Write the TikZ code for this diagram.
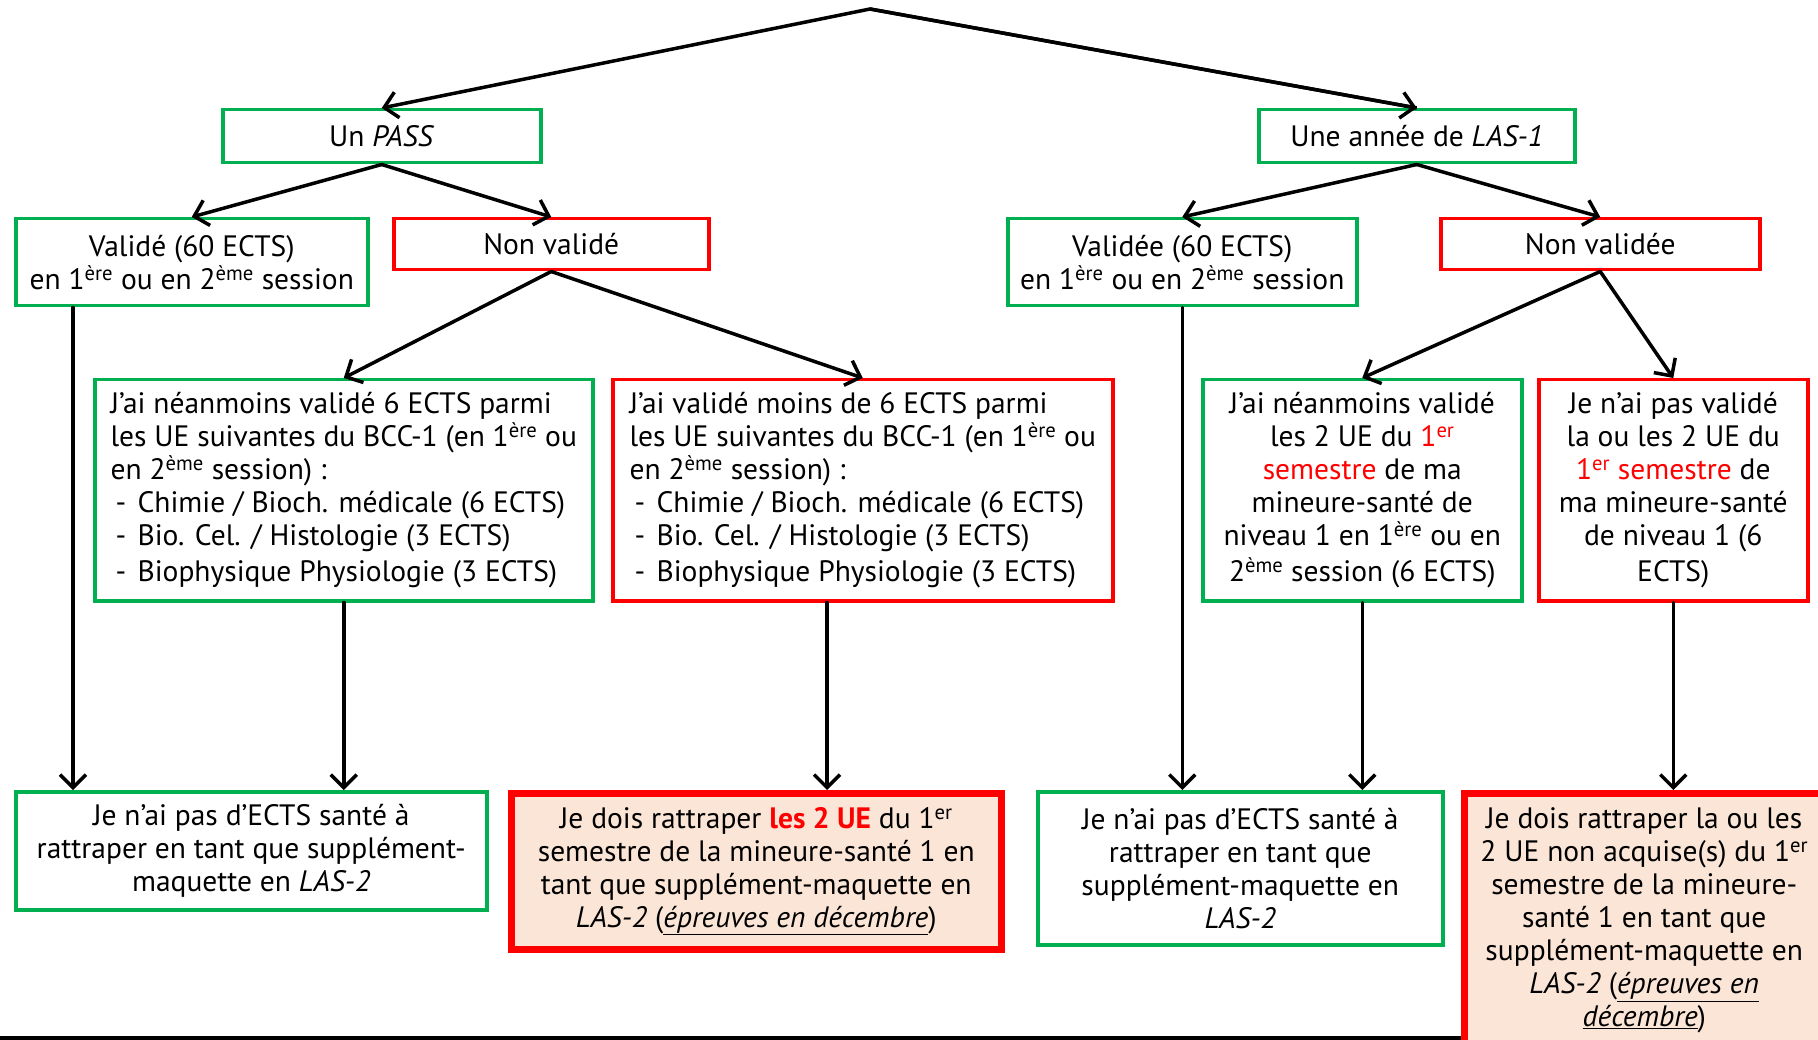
\documentclass[tikz,border=0pt]{standalone}
\usepackage{fontspec}
\setmainfont{PT Sans}
\usetikzlibrary{arrows.meta}
\definecolor{gr}{RGB}{0,176,80}
\definecolor{rd}{RGB}{255,0,0}
\definecolor{peach}{RGB}{251,229,214}
\newcommand{\itm}[1]{\makebox[27pt][l]{\hspace{5pt}-}#1}
\newcommand{\sprs}[1]{\textsuperscript{#1}}
\begin{document}
\begin{tikzpicture}[x=1pt,y=-1pt,
  box/.style={draw, line width=3.5pt, inner sep=0pt, anchor=north west,
    font=\fontsize{29.5}{33}\selectfont, align=center},
  gbox/.style={box, draw=gr},
  rbox/.style={box, draw=rd},
  rtbox/.style={box, draw=rd, line width=6.5pt, fill=peach},
  arr/.style={-{Straight Barb[length=13pt,width=26pt]}, line width=3.5pt, line cap=round}]
\useasboundingbox (0,0) rectangle (1818,1040);
\clip (0,0) rectangle (1818,1040);

\coordinate (top) at (870,9);

\node[gbox, minimum width=318pt, minimum height=53pt] (pass) at (221,108) {Un \textit{PASS}};
\node[gbox, minimum width=316pt, minimum height=53pt] (las) at (1257,108) {Une année de \textit{LAS-1}};

\node[gbox, minimum width=352pt, minimum height=87pt] (valide) at (14,217)
  {Validé (60 ECTS)\\ en 1\sprs{ère} ou en 2\sprs{ème} session};
\node[rbox, minimum width=315pt, minimum height=51pt] (nonvalide) at (392,217) {Non validé};
\node[gbox, minimum width=349pt, minimum height=87pt] (validee) at (1006,217)
  {Validée (60 ECTS)\\ en 1\sprs{ère} ou en 2\sprs{ème} session};
\node[rbox, minimum width=319pt, minimum height=51pt] (nonvalidee) at (1439,217) {Non validée};

\node[gbox, align=left, minimum width=498pt, minimum height=221pt] (neanL) at (93,378)
  {J’ai néanmoins validé 6 ECTS parmi\\
   les UE suivantes du BCC-1 (en 1\sprs{ère} ou\\
   en 2\sprs{ème} session) :\\
   \itm{Chimie / Bioch. médicale (6 ECTS)}\\
   \itm{Bio. Cel. / Histologie (3 ECTS)}\\[3pt]
   \itm{Biophysique Physiologie (3 ECTS)}};
\node[rbox, align=left, minimum width=500pt, minimum height=221pt] (moins) at (611,378)
  {J’ai validé moins de 6 ECTS parmi\\
   les UE suivantes du BCC-1 (en 1\sprs{ère} ou\\
   en 2\sprs{ème} session) :\\
   \itm{Chimie / Bioch. médicale (6 ECTS)}\\
   \itm{Bio. Cel. / Histologie (3 ECTS)}\\[3pt]
   \itm{Biophysique Physiologie (3 ECTS)}};
\node[gbox, minimum width=319pt, minimum height=221pt] (neanR) at (1201,378)
  {J’ai néanmoins validé\\
   les 2 UE du {\color{rd}1\sprs{er}}\\
   {\color{rd}semestre} de ma\\
   mineure-santé de\\
   niveau 1 en 1\sprs{ère} ou en\\[3pt]
   2\sprs{ème} session (6 ECTS)};
\node[rbox, minimum width=269pt, minimum height=221pt] (jenai) at (1537,378)
  {Je n’ai pas validé\\
   la ou les 2 UE du\\
   {\color{rd}1\sprs{er} semestre} de\\
   ma mineure-santé\\
   de niveau 1 (6\\[3pt]
   ECTS)};

\node[gbox, minimum width=471pt, minimum height=118pt] (green1) at (14,790)
  {Je n’ai pas d’ECTS santé à\\
   rattraper en tant que supplément-\\
   maquette en \textit{LAS-2}};
\node[rtbox, minimum width=490pt, minimum height=156pt] (red1) at (508,790)
  {Je dois rattraper \textbf{\color{rd}les 2 UE} du 1\sprs{er}\\
   semestre de la mineure-santé 1 en\\
   tant que supplément-maquette en\\
   \textit{LAS-2} (\underline{\textit{épreuves en décembre}})};
\node[gbox, minimum width=405pt, minimum height=153pt] (green2) at (1036,790)
  {Je n’ai pas d’ECTS santé à\\
   rattraper en tant que\\
   supplément-maquette en\\
   \textit{LAS-2}};
\node[rtbox, minimum width=360pt, minimum height=254pt] (red2) at (1461,790)
  {Je dois rattraper la ou les\\
   2 UE non acquise(s) du 1\sprs{er}\\
   semestre de la mineure-\\
   santé 1 en tant que\\
   supplément-maquette en\\
   \textit{LAS-2} (\underline{\textit{épreuves en}}\\
   \underline{\textit{décembre}})};

% connectors
\draw[arr, line cap=butt] (las.north) -- (top) -- (pass.north);
\draw[arr] (top) -- (las.north);
\draw[arr] (pass.south) -- (valide.north);
\draw[arr] (pass.south) -- (nonvalide.north);
\draw[arr] (las.south) -- (validee.north);
\draw[arr] (las.south) -- (nonvalidee.north);
\draw[arr] (nonvalide.south) -- (neanL.north);
\draw[arr] (nonvalide.south) -- (moins.north);
\draw[arr] (nonvalidee.south) -- (neanR.north);
\draw[arr] (nonvalidee.south) -- (jenai.north);

\draw[arr] ([xshift=59pt]valide.south west) -- ([xshift=59pt]valide.south west |- green1.north);
\draw[arr] (neanL.south) -- (neanL.south |- green1.north);
\draw[arr] ([xshift=216pt]moins.south west) -- ([xshift=216pt]moins.south west |- red1.north);
\draw[arr] (validee.south) -- (validee.south |- green2.north);
\draw[arr] (neanR.south) -- (neanR.south |- green2.north);
\draw[arr] (jenai.south) -- (jenai.south |- red2.north);

\coordinate (bl) at (0,1038);
\draw[line width=3.5pt] (bl) -- (bl -| red2.west);
\end{tikzpicture}
\end{document}
